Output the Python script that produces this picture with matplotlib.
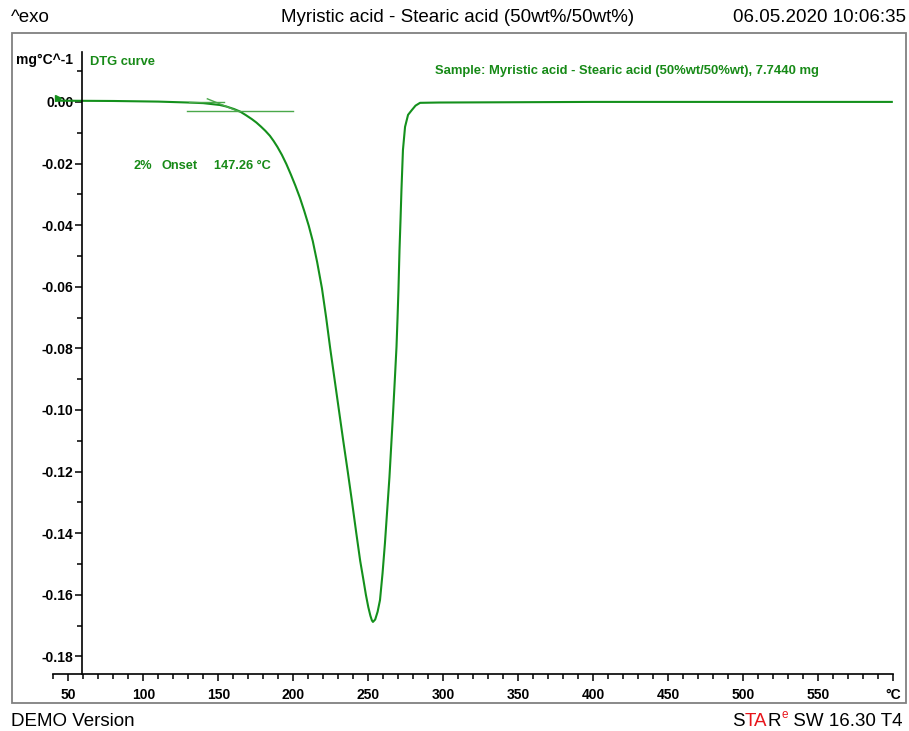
import numpy as np
import matplotlib
matplotlib.use("Agg")
import matplotlib.pyplot as plt
from matplotlib.patches import Rectangle
from matplotlib.ticker import MultipleLocator

# Données DTG (température en °C, dérivée en mg/°C)
temperature = [42, 80, 110, 130, 140, 151, 155.4, 160.4, 164.4, 168.4, 172.4,
               175.4, 178.4, 181.4, 184.4, 186.9, 189.4, 192.4, 195.4, 198.4,
               201.4, 204.4, 207.3, 210.3, 213, 215.9, 219.1, 221.9, 224.6,
               227.5, 230.4, 233.3, 236.3, 239.2, 242.0, 244.6, 246.7, 248.4,
               250.0, 251.4, 252.4, 253.1, 254.6, 256.2, 257.8, 259.5, 261.1,
               262.6, 264.1, 265.3, 266.5, 267.7, 268.8, 269.5, 270.1, 270.8,
               271.5, 272.1, 273.1, 274.5, 276.5, 279.1, 281.5, 284.5, 297,
               350, 400, 450, 500, 550, 599]
dtg = [0.0004, 0.0003, 0.0001, -0.0002, -0.0004, -0.0010, -0.0015, -0.0023,
       -0.0031, -0.0043, -0.0056, -0.0067, -0.0080, -0.0094, -0.0110, -0.0127,
       -0.0146, -0.0172, -0.0202, -0.0236, -0.0272, -0.0311, -0.0354, -0.0402,
       -0.0452, -0.0520, -0.0605, -0.0700, -0.0800, -0.0900, -0.1000, -0.1100,
       -0.1200, -0.1300, -0.1400, -0.1490, -0.1550, -0.1600, -0.1640, -0.1668,
       -0.1683, -0.1688, -0.1680, -0.1655, -0.1617, -0.1530, -0.1432, -0.1325,
       -0.1218, -0.1114, -0.1010, -0.0900, -0.0795, -0.0700, -0.0610, -0.0481,
       -0.0380, -0.0286, -0.0156, -0.0081, -0.0042, -0.0026, -0.0012, -0.0003,
       -0.0002, -0.0001, 0.0, 0.0, 0.0, 0.0, 0.0]

# Tangentes de l'évaluation de l'onset
onset_line_t = [129.3, 200.0]
onset_line_y = [-0.0031, -0.0031]
base_line_t = [130.7, 154.0]
base_line_y = [0.0001, 0.0001]
step_line_t = [142.7, 164.0]
step_line_y = [0.0010, -0.0032]

x_ticks = [50, 100, 150, 200, 250, 300, 350, 400, 450, 500, 550, 600]
x_labels = ["50", "100", "150", "200", "250", "300", "350", "400", "450",
            "500", "550", "°C"]
y_ticks = [0.00, -0.02, -0.04, -0.06, -0.08, -0.10, -0.12, -0.14, -0.16, -0.18]

W, H = 909, 731
GREEN = "#14901c"
TXT_GREEN = "#178a17"
RED = "#e8141a"

plt.rcParams['font.family'] = ['Liberation Sans', 'DejaVu Sans']


def fx(px):
    return px / W


def fy(py):
    return 1 - py / H


fig = plt.figure(figsize=(W / 100, H / 100), dpi=100)

# Cadre
fig.patches.append(Rectangle((fx(11.5), fy(703)), fx(906) - fx(11.5),
                             fy(33) - fy(703), transform=fig.transFigure,
                             fill=False, edgecolor="#808080", linewidth=1.3))

ax = fig.add_axes([fx(53.3), fy(674), fx(893.3) - fx(53.3), fy(52) - fy(674)])
ax.set_xlim(40, 600)
ax.set_ylim(-0.1857, 0.0162)
ax.patch.set_alpha(0)

for side in ["top", "right"]:
    ax.spines[side].set_visible(False)
ax.spines["left"].set_position(("data", 58.9))
ax.spines["left"].set_linewidth(1.2)
ax.spines["bottom"].set_linewidth(1.2)

ax.set_xticks(x_ticks)
ax.set_xticklabels(x_labels, fontsize=10, fontweight="bold")
ax.xaxis.set_minor_locator(MultipleLocator(10))
ax.set_yticks(y_ticks)
ax.set_yticklabels([f"{v:.2f}" for v in y_ticks], fontsize=10,
                   fontweight="bold")
ax.yaxis.set_minor_locator(MultipleLocator(0.01))
ax.tick_params(axis="x", which="major", length=5, width=1.1, pad=5)
ax.tick_params(axis="x", which="minor", length=3.5, width=1.1)
ax.tick_params(axis="y", which="major", length=5, width=1.1, pad=1)
ax.tick_params(axis="y", which="minor", length=3.5, width=1.1)

# Courbe DTG
ax.plot(temperature, dtg, color=GREEN, linewidth=1.5, clip_on=False)
ax.plot(temperature[0] + 1.2, dtg[0] + 0.0010, marker=">", color=GREEN,
        markersize=4, clip_on=False)

# Tangentes
ax.plot(onset_line_t, onset_line_y, color="#4aa84a", linewidth=1.0)
ax.plot(base_line_t, base_line_y, color="#4aa84a", linewidth=1.0)
ax.plot(step_line_t, step_line_y, color="#4aa84a", linewidth=1.0)

# Annotations
onset_style = dict(color=TXT_GREEN, fontsize=9.2, fontweight="bold",
                   va="center")
fig.text(fx(133), fy(166), "2%", **onset_style)
fig.text(fx(161), fy(166), "Onset", **onset_style)
fig.text(fx(214), fy(166), "147.26 °C", **onset_style)

fig.text(fx(90), fy(62), "DTG curve", color=TXT_GREEN, fontsize=9.3,
         fontweight="bold", va="center")
fig.text(fx(435), fy(71),
         "Sample: Myristic acid - Stearic acid (50%wt/50%wt), 7.7440 mg",
         color=TXT_GREEN, fontsize=9.4, fontweight="bold", va="center")
fig.text(fx(73), fy(60), "mg°C^-1", color="black", fontsize=10,
         fontweight="bold", va="center", ha="right")

# En-tête et pied de page
fig.text(fx(11), fy(18), "^exo", fontsize=13.5, va="center")
fig.text(fx(458), fy(18), "Myristic acid - Stearic acid (50wt%/50wt%)",
         fontsize=13.5, va="center", ha="center")
fig.text(fx(906), fy(18), "06.05.2020 10:06:35", fontsize=13.5, va="center",
         ha="right")
fig.text(fx(11), fy(721), "DEMO Version", fontsize=13.5, va="center")

# Logo STARe SW
renderer = fig.canvas.get_renderer()


def text_width(s, size):
    t = fig.text(0, 0, s, fontsize=size)
    w = t.get_window_extent(renderer=renderer).width
    t.remove()
    return w


BIG = 13.5
w_star = text_width("STAR", BIG)
w_e = text_width("e", 8.5)
w_tail = text_width(" SW 16.30 T4", BIG)
x0 = 903 - (w_star + w_e + 1 + w_tail)
fig.text(fx(x0), fy(721), "S", fontsize=BIG, va="center")
fig.text(fx(x0 + text_width("S", BIG) - 0.5), fy(721), "TA", color=RED,
         fontsize=BIG, va="center")
fig.text(fx(x0 + w_star - text_width("R", BIG)), fy(721), "R", fontsize=BIG,
         va="center")
x_e = x0 + w_star + 0.5
fig.text(fx(x_e), fy(715), "e", color=RED, fontsize=8.5, va="center")
fig.text(fx(x_e + w_e + 0.5), fy(721), " SW 16.30 T4", fontsize=BIG,
         va="center")

fig.savefig("out.png", dpi=100)
